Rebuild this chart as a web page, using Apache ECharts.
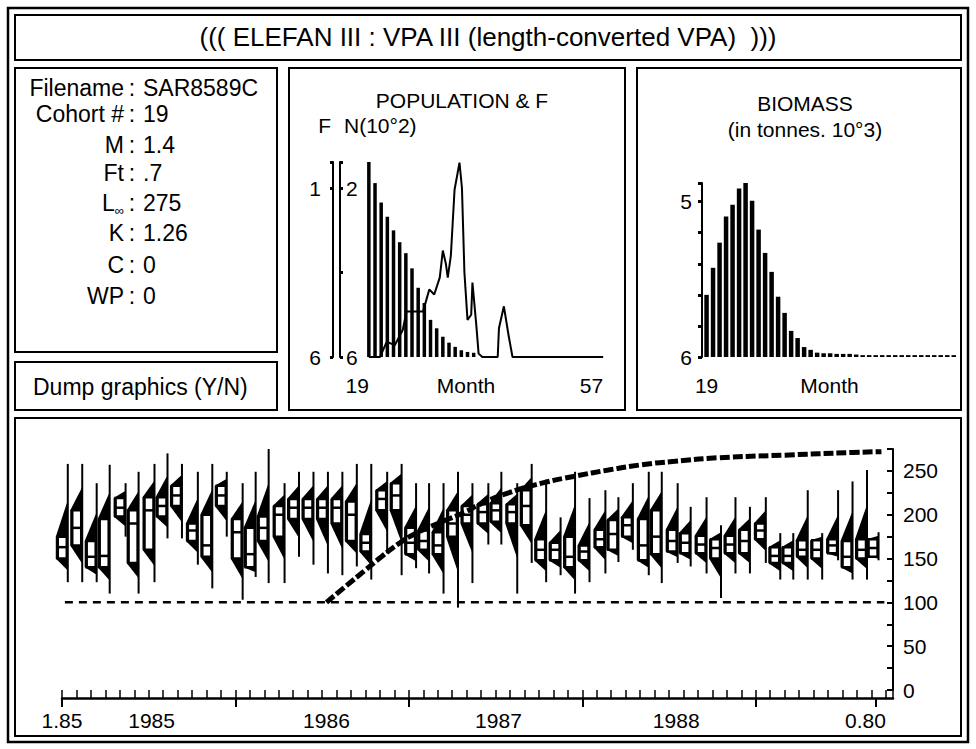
<!DOCTYPE html>
<html>
<head>
<meta charset="utf-8">
<script src="https://cdn.jsdelivr.net/npm/echarts@6/dist/echarts.min.js"></script>
<style>
  html, body { margin: 0; padding: 0; background: #fff; }
  #chart { width: 976px; height: 749px; }
</style>
</head>
<body>
<div id="chart"></div>
<script>
// ---- info panel
const infoLabels = ['Filename', 'Cohort #', 'M', 'Ft', 'L{s|∞}', 'K', 'C', 'WP']
const infoValues = ['SAR8589C', '19', '1.4', '.7', '275', '1.26', '0', '0']

// ---- population & F panel (cohort months 19..57)
const popMonth = [19, 20, 21, 22, 23, 24, 25, 26, 27, 28, 29, 30, 31, 32, 33, 34, 35, 36]
const popN = [2.33, 2.06, 1.83, 1.66, 1.50, 1.36, 1.23, 1.05, 0.82, 0.64, 0.44, 0.34, 0.24, 0.17, 0.12, 0.08, 0.06, 0.05]
const popFMonth = [19, 20.8, 21.9, 23.2, 24.5, 25.1, 27.8, 28.8, 29.6, 30.5, 31.0, 31.5, 31.8, 32.3, 32.9, 33.7, 34.1, 34.5, 35.0, 35.6, 35.8, 36.4, 36.8, 37.4, 39.9, 40.1, 40.9, 41.7, 42.3, 57]
const popF = [0, 0, 0.09, 0.07, 0.16, 0.27, 0.27, 0.40, 0.37, 0.47, 0.63, 0.55, 0.47, 0.60, 0.99, 1.15, 1.0, 0.5, 0.22, 0.25, 0.44, 0.2, 0.02, 0, 0, 0.17, 0.30, 0.12, 0, 0]
const popFTickLabels = ['6', '1']
const popNTickLabels = ['6', '', '2']

// ---- biomass panel
const bioMonth = [19, 20, 21, 22, 23, 24, 25, 26, 27, 28, 29, 30, 31, 32, 33, 34, 35, 36, 37, 38, 39, 40, 41, 42, 43, 44, 45, 46, 47, 48, 49, 50, 51, 52, 53, 54, 55, 56, 57]
const bioVal = [2.0, 2.87, 3.68, 4.52, 4.9, 5.42, 5.61, 5.03, 4.1, 3.35, 2.74, 1.94, 1.42, 0.84, 0.61, 0.32, 0.23, 0.14, 0.12, 0.12, 0.1, 0.1, 0.1, 0.08, 0.06, 0.06, 0.06, 0.06, 0.06, 0.06, 0.06, 0.06, 0.06, 0.06, 0.06, 0.06, 0.06, 0.06, 0.06]
const bioTickLabels = ['6', '', '', '', '', '5']

// ---- length-frequency samples (months from Jan 1985, length mm)
const sampleMonth = [0.4, 1.4, 2.4, 3.3, 4.4, 5.3, 6.4, 7.3, 8.3, 9.4, 10.4, 11.4, 12.5, 13.4, 14.3, 15.4, 16.4, 17.4, 18.4, 19.4, 20.4, 21.4, 22.5, 23.5, 24.5, 25.4, 26.4, 27.4, 28.4, 29.5, 30.4, 31.5, 32.5, 33.5, 34.5, 35.5, 36.5, 37.6, 38.5, 39.5, 40.6, 41.5, 42.6, 43.5, 44.6, 45.6, 46.6, 47.6, 48.7, 49.7, 50.6, 51.6, 52.6, 53.7, 54.7, 55.7, 56.5]
const sampleMin = [123, 123, 123, 110, 175, 110, 123, 173, 173, 143, 116, 175, 103, 129, 122, 122, 152, 143, 133, 131, 141, 126, 156, 131, 139, 133, 110, 94, 122, 166, 166, 110, 145, 123, 131, 110, 123, 133, 146, 160, 131, 122, 145, 141, 133, 105, 133, 133, 145, 126, 126, 126, 126, 148, 126, 126, 148]
const sampleQ1 = [150, 165, 140, 140, 198, 145, 160, 198, 210, 170, 152, 210, 150, 140, 170, 175, 195, 195, 195, 190, 170, 158, 205, 205, 155, 160, 155, 175, 190, 190, 192, 190, 188, 148, 148, 140, 148, 163, 160, 175, 148, 155, 158, 156, 156, 150, 156, 156, 172, 145, 145, 152, 150, 156, 140, 150, 152]
const sampleMed = [163, 185, 152, 153, 208, 190, 205, 210, 222, 182, 165, 222, 180, 155, 185, 200, 208, 208, 208, 208, 200, 168, 218, 222, 168, 170, 165, 190, 200, 203, 205, 203, 210, 160, 160, 152, 158, 172, 178, 188, 165, 175, 170, 168, 166, 162, 166, 170, 182, 153, 153, 160, 160, 165, 152, 160, 162]
const sampleQ3 = [175, 205, 170, 195, 219, 205, 220, 220, 233, 190, 200, 233, 195, 185, 198, 210, 218, 218, 218, 218, 215, 178, 228, 236, 185, 182, 180, 205, 210, 212, 213, 212, 228, 172, 168, 175, 165, 183, 194, 197, 195, 205, 183, 179, 176, 172, 176, 183, 190, 163, 163, 171, 171, 172, 170, 172, 172]
const sampleMax = [258, 258, 236, 257, 236, 249, 258, 270, 258, 249, 258, 249, 236, 249, 275, 236, 249, 249, 249, 249, 258, 258, 249, 258, 236, 236, 236, 249, 236, 236, 249, 236, 258, 240, 197, 249, 219, 228, 220, 236, 249, 249, 236, 209, 220, 188, 220, 209, 220, 179, 179, 228, 179, 228, 238, 251, 180]

// growth curve (as drawn) and the lower limit line
const growthMonth = [18.3, 19.6, 21.0, 22.1, 23.3, 24.4, 26.0, 27.9, 28.8, 30.9, 33.2, 35.5, 37.8, 40.1, 42.4, 45.4, 50.0, 54.7, 56.7]
const growthLen = [100, 118, 137, 152, 167, 178, 190, 203, 211, 225, 236, 244, 251, 257, 261, 265, 268, 271, 272]
const limitMonth = [0.2, 56.9]
const limitLen = [100, 100]

const xMajorTicks = [0, 12, 24, 36, 48, 56.3]
const xLabelValues = [0, 6.2, 18.3, 30.2, 42.5, 55.6]
const xLabelTexts = ['1.85', '1985', '1986', '1987', '1988', '0.80']
const yTickLabels = [0, 50, 100, 150, 200, 250]

const FONT = 'Liberation Sans'
const FS = 21
const FS_INFO = 23
const zip = (a, b) => a.map((v, i) => [v, b[i]])

const chart = echarts.init(document.getElementById('chart'), null, { renderer: 'svg' })

const boxes = [
  [8, 8, 960, 734, 2.5],
  [15, 15, 946, 45, 2],
  [15, 68, 262, 284, 2],
  [15, 362, 262, 48, 2],
  [289, 68, 336, 342, 2],
  [637, 68, 324, 342, 2],
  [15, 418, 946, 318, 2]
]
const graphic = boxes.map(b => ({
  type: 'rect',
  shape: { x: b[0], y: b[1], width: b[2], height: b[3] },
  style: { fill: 'none', stroke: '#000', lineWidth: b[4] },
  silent: true
}))
const infoY = [88, 114, 145, 173, 203, 233, 265, 296]
const infoFont = FS_INFO + 'px "' + FONT + '"'
infoLabels.forEach((lab, i) => {
  graphic.push({
    type: 'text', x: 124, y: infoY[i],
    style: {
      text: lab, fill: '#000', font: infoFont, align: 'right', verticalAlign: 'middle',
      rich: { s: { fontSize: 13, fontFamily: FONT, padding: [14, 0, 0, 0] } }
    }
  })
  graphic.push({
    type: 'text', x: 132, y: infoY[i],
    style: { text: ':', fill: '#000', font: infoFont, align: 'center', verticalAlign: 'middle' }
  })
  graphic.push({
    type: 'text', x: 143, y: infoY[i],
    style: { text: infoValues[i], fill: '#000', font: infoFont, align: 'left', verticalAlign: 'middle' }
  })
})
graphic.push({
  type: 'text', x: 33, y: 387,
  style: { text: 'Dump graphics (Y/N)', fill: '#000', font: infoFont, align: 'left', verticalAlign: 'middle' }
})

const txt = { color: '#000', fontFamily: FONT, fontSize: FS, fontWeight: 'normal' }
const lbl = { color: '#000', fontSize: FS, fontFamily: FONT }

const option = {
  animation: false,
  backgroundColor: '#fff',
  textStyle: { fontFamily: FONT, color: '#000' },
  graphic: graphic,
  title: [
    { text: '((( ELEFAN III : VPA III (length-converted VPA)  )))', left: 'center', top: 19, textStyle: Object.assign({}, txt, { fontSize: 26 }) },
    { text: 'POPULATION & F', left: 457, top: 85, textAlign: 'center', textStyle: txt },
    { text: 'BIOMASS\n(in tonnes. 10°3)', left: 800, top: 85, textAlign: 'center', textStyle: Object.assign({}, txt, { lineHeight: 26 }) }
  ],
  grid: [
    { left: 367, right: 371, top: 162, bottom: 392 },
    { left: 702, right: 19, top: 183, bottom: 392 },
    { left: 62, right: 83, top: 449, bottom: 59 }
  ],
  xAxis: [
    {
      gridIndex: 0, type: 'value', min: 18.7, max: 57.3, position: 'bottom',
      axisLine: { show: false }, axisTick: { show: false }, splitLine: { show: false },
      axisLabel: Object.assign({ customValues: [19, 57], align: 'right', margin: 18 }, lbl),
      name: 'Month', nameLocation: 'middle', nameGap: 18, nameMoveOverlap: false,
      nameTextStyle: Object.assign({ verticalAlign: 'top', padding: [0, 40, 0, 0] }, lbl)
    },
    {
      gridIndex: 1, type: 'value', min: 18.3, max: 57.5, position: 'bottom',
      axisLine: { show: false }, axisTick: { show: false }, splitLine: { show: false },
      axisLabel: Object.assign({ customValues: [19], margin: 18 }, lbl),
      name: 'Month', nameLocation: 'middle', nameGap: 18, nameMoveOverlap: false,
      nameTextStyle: Object.assign({ verticalAlign: 'top' }, lbl)
    },
    {
      gridIndex: 2, type: 'value', min: 0, max: 57.5, interval: 1, position: 'bottom', offset: 8,
      axisLine: { onZero: false, lineStyle: { color: '#000', width: 2.5 } }, splitLine: { show: false },
      axisTick: { inside: true, length: 8, lineStyle: { color: '#000', width: 1.5 } },
      axisLabel: { show: false }
    },
    {
      gridIndex: 2, type: 'value', min: 0, max: 57.5, position: 'bottom', offset: 8,
      axisLine: { show: false, onZero: false }, splitLine: { show: false },
      axisTick: { customValues: xMajorTicks, length: 9, lineStyle: { color: '#000', width: 2 } },
      axisLabel: Object.assign({
        customValues: xLabelValues, margin: 12,
        formatter: v => xLabelTexts[xLabelValues.indexOf(v)]
      }, lbl)
    }
  ],
  yAxis: [
    {
      gridIndex: 0, type: 'value', min: 0, max: 1.154, interval: 1, position: 'left', offset: 34,
      axisLine: { show: true, onZero: false, lineStyle: { color: '#000', width: 2 } },
      axisTick: { show: true, length: 3, lineStyle: { color: '#000', width: 3 } },
      splitLine: { show: false },
      axisLabel: Object.assign({ margin: 12, formatter: v => popFTickLabels[v] }, lbl),
      name: 'F', nameLocation: 'end', nameGap: 26,
      nameTextStyle: Object.assign({ align: 'right', padding: [0, 2, 0, 0] }, lbl)
    },
    {
      gridIndex: 0, type: 'value', min: 0, max: 2.31, interval: 1, position: 'left', offset: 27,
      axisLine: { show: true, onZero: false, lineStyle: { color: '#000', width: 2 } },
      axisTick: { show: true, inside: true, length: 3, lineStyle: { color: '#000', width: 3 } },
      splitLine: { show: false },
      axisLabel: Object.assign({ inside: true, margin: 6, formatter: v => popNTickLabels[v] }, lbl),
      name: 'N(10°2)', nameLocation: 'end', nameGap: 26,
      nameTextStyle: Object.assign({ align: 'left', padding: [0, 0, 0, 4] }, lbl)
    },
    {
      gridIndex: 1, type: 'value', min: 0, max: 5.6, interval: 1,
      axisLine: { show: true, onZero: false, lineStyle: { color: '#000', width: 2 } },
      axisTick: { show: true, length: 4, lineStyle: { color: '#000', width: 3 } },
      splitLine: { show: false },
      axisLabel: Object.assign({ margin: 10, formatter: v => bioTickLabels[v] }, lbl)
    },
    {
      gridIndex: 2, type: 'value', min: 0, max: 275, interval: 25, position: 'right',
      axisLine: { show: true, onZero: false, lineStyle: { color: '#000', width: 2 } },
      axisTick: { show: true, inside: true, length: 6, lineStyle: { color: '#000', width: 2 } },
      splitLine: { show: false },
      axisLabel: Object.assign({
        margin: 10,
        formatter: v => (yTickLabels.indexOf(v) >= 0 ? String(v) : '')
      }, lbl)
    }
  ],
  series: [
    {
      name: 'N', type: 'bar', xAxisIndex: 0, yAxisIndex: 1, barWidth: 3.5,
      itemStyle: { color: '#000' }, data: zip(popMonth, popN)
    },
    {
      name: 'F', type: 'line', xAxisIndex: 0, yAxisIndex: 0, showSymbol: false,
      lineStyle: { color: '#000', width: 2 }, data: zip(popFMonth, popF)
    },
    {
      name: 'Biomass', type: 'bar', xAxisIndex: 1, yAxisIndex: 2, barWidth: 4.5,
      itemStyle: { color: '#000' }, data: zip(bioMonth, bioVal)
    },
    {
      name: 'Samples', type: 'custom', xAxisIndex: 2, yAxisIndex: 3,
      encode: { x: 0, y: [1, 2, 3, 4, 5] },
      data: sampleMonth.map((m, i) => [m, sampleMin[i], sampleQ1[i], sampleMed[i], sampleQ3[i], sampleMax[i]]),
      renderItem: function (params, api) {
        const x = api.value(0)
        const top = api.coord([x, api.value(5)])
        const bot = api.coord([x, api.value(1)])
        const q1 = api.coord([x, api.value(2)])
        const med = api.coord([x, api.value(3)])
        const q3 = api.coord([x, api.value(4)])
        const lx = top[0]
        const w = 10
        const tipTop = (top[1] + q3[1]) / 2
        const tipBot = (bot[1] + q1[1]) / 2
        return {
          type: 'group',
          children: [
            { type: 'polygon', shape: { points: [[lx, tipTop], [lx - w - 2, q3[1]], [lx - w - 2, q1[1]], [lx, tipBot]] }, style: { fill: '#000' } },
            { type: 'line', shape: { x1: lx, y1: top[1], x2: lx, y2: bot[1] }, style: { stroke: '#000', lineWidth: 2 } },
            { type: 'rect', shape: { x: lx - w, y: q3[1], width: w - 1, height: q1[1] - q3[1] }, style: { fill: '#fff', stroke: '#000', lineWidth: 2.5 } },
            { type: 'line', shape: { x1: lx - w, y1: med[1], x2: lx, y2: med[1] }, style: { stroke: '#000', lineWidth: 2.5 } }
          ]
        }
      }
    },
    {
      name: 'Lower limit', type: 'line', xAxisIndex: 2, yAxisIndex: 3, showSymbol: false,
      lineStyle: { color: '#000', width: 2.5, type: [8, 6] }, data: zip(limitMonth, limitLen)
    },
    {
      name: 'Growth curve', type: 'line', xAxisIndex: 2, yAxisIndex: 3, showSymbol: false, smooth: true,
      lineStyle: { color: '#000', width: 5, type: [10, 3] }, data: zip(growthMonth, growthLen)
    }
  ]
}
chart.setOption(option)
</script>
</body>
</html>
